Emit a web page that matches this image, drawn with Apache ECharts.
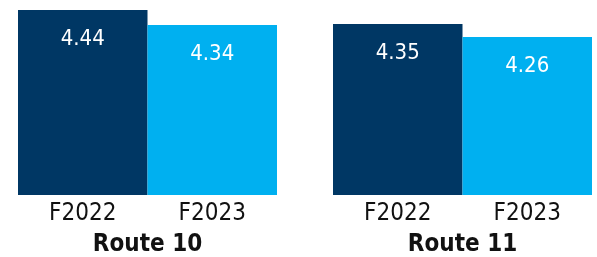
<!DOCTYPE html>
<html>
<head>
<meta charset="utf-8">
<script src="https://cdn.jsdelivr.net/npm/echarts@6/dist/echarts.min.js"></script>
<style>
html,body{margin:0;padding:0;background:#fff;}
#chart{width:597px;height:257px;}
</style>
</head>
<body>
<div id="chart"></div>
<script>
var years = ['F2022', 'F2023'];
var routes = ['Route 10', 'Route 11'];
var route10 = [4.44, 4.34];
var route11 = [4.35, 4.26];
var barColors = ['#003764', '#00B0F0'];

var FONT = '"DejaVu Sans Condensed", "DejaVu Sans", sans-serif';

function bars(values){
    return values.map(function(v, i){
        return { value: v, itemStyle: { color: barColors[i] } };
    });
}

function xAxisFor(idx, name){
    return {
        type: 'category', gridIndex: idx, data: years,
        axisLine: { show: false }, axisTick: { show: false },
        axisLabel: { color: '#111', fontSize: 24, fontFamily: FONT, margin: 7 },
        name: name, nameLocation: 'middle', nameGap: 38,
        nameTextStyle: { color: '#111', fontSize: 24, fontWeight: 'bold', fontFamily: FONT }
    };
}

function yAxisFor(idx, min, max){
    return { type: 'value', gridIndex: idx, min: min, max: max, show: false, splitLine: { show: false } };
}

function seriesFor(idx, values){
    return {
        type: 'bar', xAxisIndex: idx, yAxisIndex: idx,
        data: bars(values), barCategoryGap: 0, barGap: 0,
        label: {
            show: true, position: 'insideTop', distance: 18,
            color: '#fff', fontSize: 22, fontFamily: FONT
        }
    };
}

var chart = echarts.init(document.getElementById('chart'));
chart.setOption({
    animation: false,
    grid: [
        { left: 18, width: 259, top: 0, bottom: 62, containLabel: false, outerBoundsMode: 'none' },
        { left: 333, width: 259, top: 0, bottom: 62, containLabel: false, outerBoundsMode: 'none' }
    ],
    xAxis: [xAxisFor(0, routes[0]), xAxisFor(1, routes[1])],
    yAxis: [yAxisFor(0, 3.207, 4.507), yAxisFor(1, 3.166, 4.516)],
    series: [seriesFor(0, route10), seriesFor(1, route11)]
});
</script>
</body>
</html>
